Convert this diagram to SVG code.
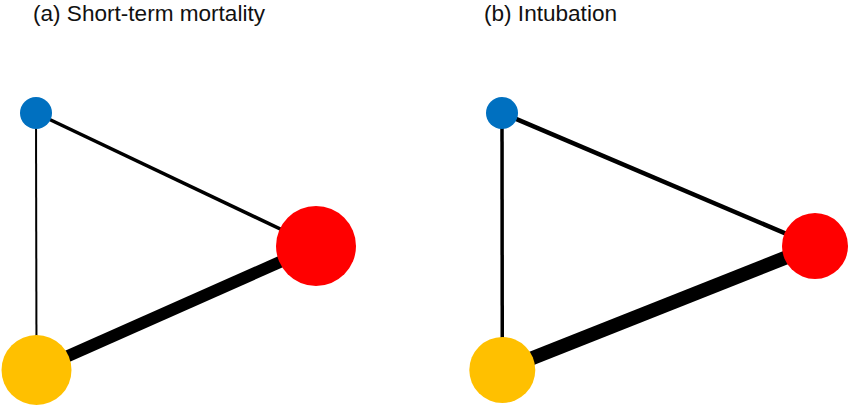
<svg xmlns="http://www.w3.org/2000/svg" width="850" height="407" viewBox="0 0 850 407">
<style>
.title{font-family:"Liberation Sans",Arial,sans-serif;font-size:22px;fill:#111}
.e{stroke:#000;fill:none}
.blue{fill:#0070C0}.red{fill:#FF0000}.yellow{fill:#FFC000}
</style>
<rect width="850" height="407" fill="#fff"/>
<text class="title" x="33" y="21" textLength="232" lengthAdjust="spacingAndGlyphs">(a) Short-term mortality</text>
<text class="title" x="484" y="21" textLength="133" lengthAdjust="spacingAndGlyphs">(b) Intubation</text>
<g id="connectors">
<line class="e" x1="36" y1="113" x2="36.5" y2="370" stroke-width="2"/>
<line class="e" x1="36" y1="113" x2="316" y2="246" stroke-width="3.5"/>
<line class="e" x1="36.5" y1="370" x2="316" y2="246" stroke-width="12"/>
<line class="e" x1="502" y1="113" x2="502.3" y2="370" stroke-width="3.5"/>
<line class="e" x1="502" y1="113" x2="815" y2="246" stroke-width="4.5"/>
<line class="e" x1="502.3" y1="370" x2="815" y2="246" stroke-width="14"/>
</g>
<g id="a-blue"><circle class="blue" cx="36" cy="113" r="16"/></g>
<g id="a-red"><circle class="red" cx="316" cy="246" r="40"/></g>
<g id="a-yellow"><circle class="yellow" cx="36.5" cy="370" r="35"/></g>
<g id="b-blue"><circle class="blue" cx="502" cy="113" r="16"/></g>
<g id="b-red"><circle class="red" cx="815" cy="246" r="33"/></g>
<g id="b-yellow"><circle class="yellow" cx="502.3" cy="370" r="33"/></g>
</svg>
